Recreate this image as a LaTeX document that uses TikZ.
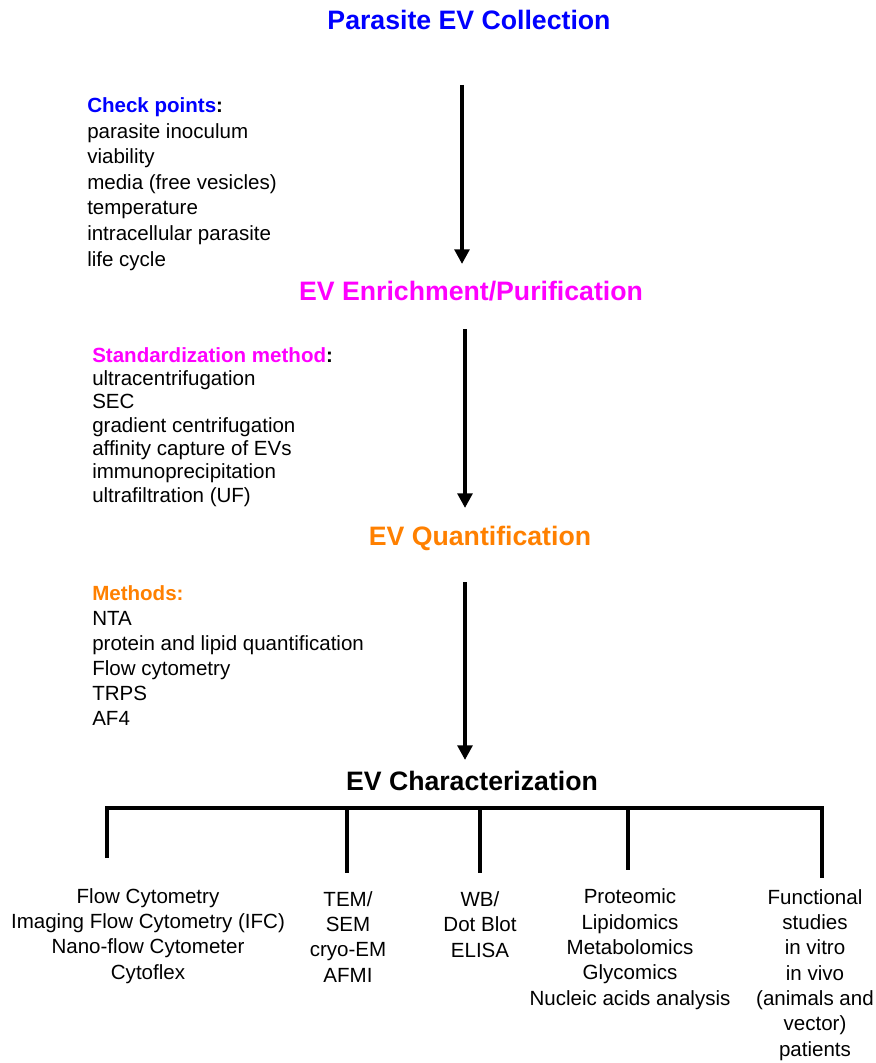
\documentclass[tikz,border=0pt]{standalone}
\usepackage{fontspec}
\setmainfont{Liberation Sans}
\usetikzlibrary{arrows.meta}
\definecolor{evblue}{RGB}{0,0,255}
\definecolor{evmagenta}{RGB}{255,0,255}
\definecolor{evorange}{RGB}{255,128,0}

\begin{document}
\begin{tikzpicture}[x=0.75pt,y=-0.75pt,
    stage/.style={anchor=base,inner sep=0pt,font=\fontsize{20}{24}\selectfont\bfseries},
    notes/.style={anchor=base west,align=left,inner sep=0pt,font=\fontsize{15.4}{19.2}\selectfont},
    tool/.style={anchor=base,align=center,inner sep=0pt,font=\fontsize{15.4}{19}\selectfont},
    flow/.style={-{Triangle[width=11pt,length=11pt]},line width=3pt},
    branch/.style={line width=2.4pt}]
    \useasboundingbox (0,0) rectangle (875,1063);

    % stages
    \node[stage,text=evblue] (collect) at (469,30) {Parasite EV Collection};
    \node[stage,text=evmagenta] (enrich) at (471,300) {EV Enrichment/Purification};
    \node[stage,text=evorange] (quant) at (480,545) {EV Quantification};
    \node[stage] (charac) at (472,790) {EV Characterization};

    % notes on the left (placed by the baseline of their last line)
    \node[notes] (checks) at (87,266) {\textbf{\textcolor{evblue}{Check points}:}\\
        parasite inoculum\\viability\\media (free vesicles)\\temperature\\
        intracellular parasite\\life cycle};
    \node[notes,font=\fontsize{15.4}{17.5}\selectfont] (standard) at (92,502) {\textbf{\textcolor{evmagenta}{Standardization method}:}\\
        ultracentrifugation\\SEC\\gradient centrifugation\\affinity capture of EVs\\
        immunoprecipitation\\ultrafiltration (UF)};
    \node[notes,font=\fontsize{15.4}{18.75}\selectfont] (methods) at (92,725) {\textbf{\textcolor{evorange}{Methods:}}\\
        NTA\\protein and lipid quantification\\Flow cytometry\\TRPS\\AF4};

    % arrows between stages
    \coordinate (c1a) at (462,85);  \coordinate (c1b) at (462,264);
    \coordinate (c2a) at (465,329); \coordinate (c2b) at (465,508);
    \coordinate (c3a) at (465,582); \coordinate (c3b) at (465,760);
    \draw[flow] (c1a) -- (c1b);
    \draw[flow] (c2a) -- (c2b);
    \draw[flow] (c3a) -- (c3b);

    % characterization tree
    \draw[branch] (107,858) -- (107,808) -- (822,808) -- (822,878);
    \foreach \n/\x/\y in {micro/347/873,blot/480/873,omics/628/870}
        {\coordinate (leg\n) at (\x,\y);
         \draw[branch] (\x,808) -- (leg\n);}

    \node[tool] (flowcyt) at (148,979) {Flow Cytometry\\Imaging Flow Cytometry (IFC)\\
        Nano-flow Cytometer\\Cytoflex};
    \node[tool] (micro) at (348,982) {TEM/\\SEM\\cryo-EM\\AFMI};
    \node[tool] (blot) at (480,957) {WB/\\Dot Blot\\ELISA};
    \node[tool] (omics) at (630,1005) {Proteomic\\Lipidomics\\Metabolomics\\Glycomics\\
        Nucleic acids analysis};
    \node[tool] (funct) at (815,1056) {Functional\\studies\\in vitro\\in vivo\\
        (animals and\\vector)\\patients};
\end{tikzpicture}
\end{document}
